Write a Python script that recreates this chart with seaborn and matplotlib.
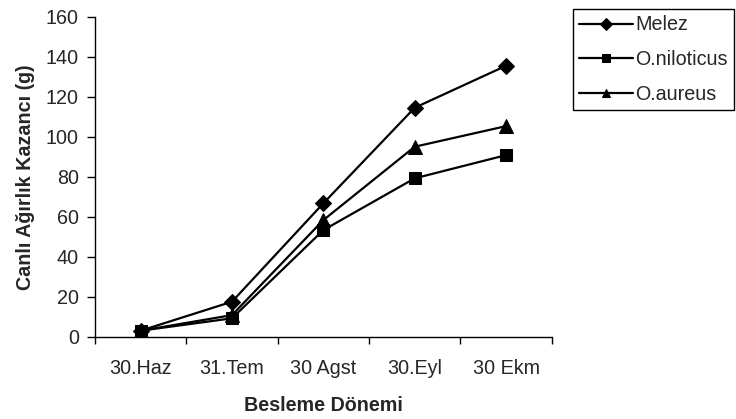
import matplotlib
matplotlib.use("Agg")
import matplotlib.pyplot as plt
import seaborn as sns
import pandas as pd
import numpy as np
from matplotlib.ticker import FixedLocator

periods = ["30.Haz", "31.Tem", "30 Agst", "30.Eyl", "30 Ekm"]
melez = [3, 17.5, 66.7, 114.5, 135.5]
niloticus = [3, 9.2, 53.3, 79.2, 90.8]
aureus = [3, 10.8, 58.3, 95, 105.3]
series_names = ["Melez", "O.niloticus", "O.aureus"]

rows = []
for name, vals in zip(series_names, [melez, niloticus, aureus]):
    for i, (p, v) in enumerate(zip(periods, vals)):
        rows.append({"idx": i, "period": p, "value": v, "series": name})
df = pd.DataFrame(rows)

sns.set_style("white")
plt.rcParams['font.family'] = ['Liberation Sans', 'DejaVu Sans']

FS = 14.2
fig = plt.figure(figsize=(7.36, 4.19), dpi=100)
ax = fig.add_axes([0.129, 0.1964, 0.6206, 0.7636])

markers = {"Melez": "D", "O.niloticus": "s", "O.aureus": "^"}
sizes_ms = {"Melez": 8, "O.niloticus": 9, "O.aureus": 9.5}
for name in series_names:
    sub = df[df.series == name]
    sns.lineplot(data=sub, x="idx", y="value", ax=ax, color="black",
                 marker=markers[name], markersize=sizes_ms[name],
                 markeredgecolor="black", linewidth=1.6, label=name)

ax.set_xlim(-0.5, 4.5)
ax.set_ylim(0, 160)
ax.set_yticks(np.arange(0, 161, 20))
ax.set_xticks(range(len(periods)))
ax.set_xticklabels(periods)
ax.xaxis.set_minor_locator(FixedLocator(np.arange(-0.5, 4.6, 1)))
ax.tick_params(axis="x", which="major", length=0, labelsize=FS, pad=16)
ax.tick_params(axis="x", which="minor", length=5, width=1, color="black", direction="out")
ax.tick_params(axis="y", which="major", length=5.5, width=1, color="black", direction="out", labelsize=FS, pad=6)
ax.yaxis.set_ticks_position("left")
ax.xaxis.set_ticks_position("bottom")

for s in ["top", "right"]:
    ax.spines[s].set_visible(False)
for s in ["left", "bottom"]:
    ax.spines[s].set_color("black")
    ax.spines[s].set_linewidth(1)

ax.set_xlabel("Besleme Dönemi", fontsize=FS, fontweight="bold", labelpad=13)
ax.set_ylabel("Canlı Ağırlık Kazancı (g)", fontsize=FS, fontweight="bold", labelpad=8)

leg = ax.legend(loc="upper left", bbox_to_anchor=(573/736, 1-9.5/419), bbox_transform=fig.transFigure,
                frameon=True, fancybox=False, framealpha=1, edgecolor="black",
                fontsize=FS, handlelength=2.75, handletextpad=0.1, borderpad=0.3,
                labelspacing=0.8, borderaxespad=0)
leg.get_frame().set_linewidth(1)
for h in leg.get_lines():
    h.set_markersize(6)

fig.savefig("out.png", dpi=100)
